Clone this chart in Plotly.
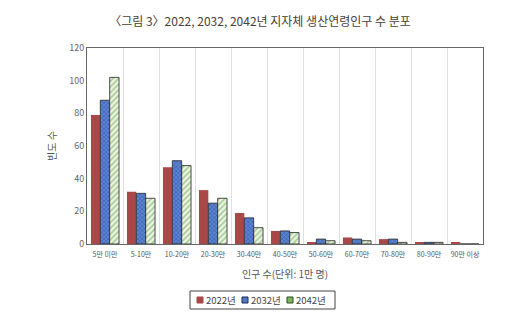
import plotly.graph_objects as go

categories = ["5만 미만", "5-10만", "10-20만", "20-30만", "30-40만", "40-50만",
              "50-60만", "60-70만", "70-80만", "80-90만", "90만 이상"]
v2022 = [79, 32, 47, 33, 19, 8, 1, 4, 3, 1, 1]
v2032 = [88, 31, 51, 25, 16, 8, 3, 3, 3, 1, 0]
v2042 = [102, 28, 48, 28, 10, 7, 2, 2, 1, 1, 0]
series_names = ["2022년", "2032년", "2042년"]

FONT = "Noto Sans CJK KR"
W, H = 530, 322
ML, MR, MT, MB = 87, 47, 48, 78
PW, PH = W - ML - MR, H - MT - MB

RED = "#a94848"
BLUE = "#5a84d4"
GREEN_BG = "#eef6e6"


def fx(px):
    return (px - ML) / PW


def fy(py):
    return (H - MB - py) / PH


fig = go.Figure()
fig.add_trace(go.Bar(
    x=categories, y=v2022, name=series_names[0],
    marker=dict(color=RED, line=dict(width=0)),
))
fig.add_trace(go.Bar(
    x=categories, y=v2032, name=series_names[1],
    marker=dict(color="#4f78c8", line=dict(color="#222222", width=0.8),
                pattern=dict(shape="x", fgcolor="#1d2a55", bgcolor=BLUE,
                             size=3, solidity=0.35)),
))
fig.add_trace(go.Bar(
    x=categories, y=v2042, name=series_names[2],
    marker=dict(color="#e6f1dc", line=dict(color="#222222", width=0.8),
                pattern=dict(shape="/", fgcolor="#5fa048", bgcolor=GREEN_BG,
                             size=4, solidity=0.45)),
))

# compact boxed legend below the axis title
shapes = [dict(type="rect", xref="paper", yref="paper",
               x0=fx(190), x1=fx(335), y0=fy(291), y1=fy(309),
               line=dict(color="#444444", width=1), fillcolor="white")]
annotations = []
swatches = [(RED, RED), ("#4f78c8", "#1d2a55"), ("#7fb464", "#2f4a22")]
for i, (name, (fill, edge)) in enumerate(zip(series_names, swatches)):
    sx = 197 + i * 45
    shapes.append(dict(type="rect", xref="paper", yref="paper",
                       x0=fx(sx), x1=fx(sx + 6), y0=fy(297), y1=fy(303),
                       line=dict(color=edge, width=1), fillcolor=fill))
    annotations.append(dict(text=name, xref="paper", yref="paper",
                            x=fx(sx + 7), y=fy(300), xanchor="left", yanchor="middle",
                            showarrow=False,
                            font=dict(size=9.5, color="#444444", family=FONT)))

fig.update_layout(
    width=W, height=H,
    margin=dict(l=ML, r=MR, t=MT, b=MB, autoexpand=False),
    paper_bgcolor="white", plot_bgcolor="white",
    barmode="group", bargap=0.22, bargroupgap=0,
    font=dict(family=FONT, color="#555555"),
    title=dict(text="〈그림 3〉2022, 2032, 2042년 지자체 생산연령인구 수 분포",
               x=260 / W, xref="container", xanchor="center",
               y=(H - 22) / H, yref="container", yanchor="middle",
               font=dict(size=12, color="#4a4036", family=FONT)),
    showlegend=False,
    shapes=shapes,
    annotations=annotations,
)

fig.update_xaxes(
    type="category", tickson="boundaries", automargin=False,
    showgrid=True, gridcolor="#e0e0e0", gridwidth=1,
    showline=True, linecolor="#666666", linewidth=1, mirror=True,
    ticks="", tickfont=dict(size=7, color="#555555"), tickangle=0,
    ticklabelstandoff=4,
    title=dict(text="인구 수(단위: 1만 명)", font=dict(size=10, color="#555555"),
               standoff=12),
)
fig.update_yaxes(
    range=[0, 120], dtick=20, showgrid=False, zeroline=False, automargin=False,
    showline=True, linecolor="#666666", linewidth=1, mirror=True,
    ticks="", tickfont=dict(size=9, color="#666666"),
    title=dict(text="빈도 수", font=dict(size=10, color="#555555"), standoff=10),
)

fig.write_html("out.html")
